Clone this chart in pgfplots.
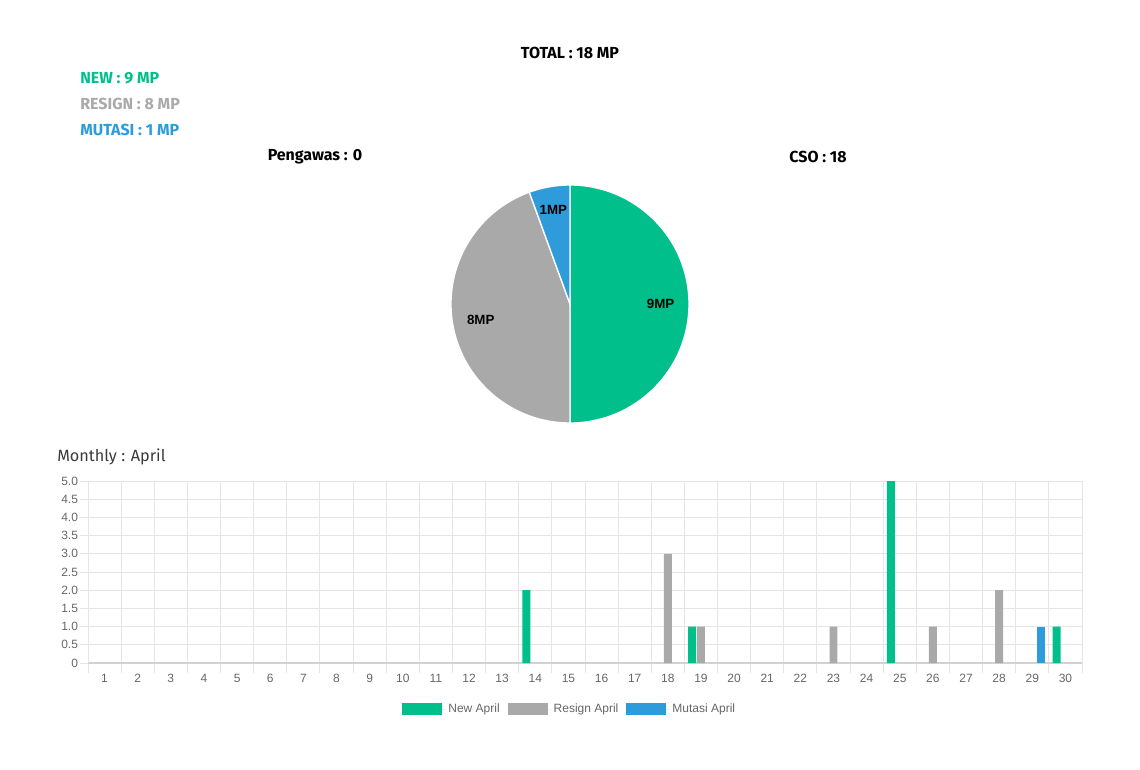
\documentclass[border=0pt]{standalone}
\usepackage{pgfplots}
\pgfplotsset{compat=1.18}
\usepackage{fontspec}
\setmainfont{Liberation Sans}
\newfontfamily\head{Fira Sans}

\definecolor{cgreen}{RGB}{0,191,138}
\definecolor{cgray}{RGB}{169,169,169}
\definecolor{cblue}{RGB}{46,155,219}
\definecolor{gridcol}{RGB}{229,229,229}
\definecolor{axiscol}{RGB}{210,210,210}
\definecolor{tickcol}{RGB}{102,102,102}
\definecolor{titlecol}{RGB}{58,58,58}

% pie values (MP)
\def\vNew{9}
\def\vRes{8}
\def\vMut{1}
\pgfmathsetmacro\vTot{\vNew+\vRes+\vMut}
\pgfmathsetmacro\aA{90-360*\vNew/\vTot}
\pgfmathsetmacro\aB{\aA-360*\vRes/\vTot}
\pgfmathsetmacro\aC{\aB-360*\vMut/\vTot}
\pgfmathsetmacro\mA{(90+\aA)/2}
\pgfmathsetmacro\mB{(\aA+\aB)/2}
\pgfmathsetmacro\mC{(\aB+\aC)/2}

\begin{document}
\begin{tikzpicture}
\begin{scope}[x=0.75pt,y=-0.75pt]
  \path[use as bounding box] (0,0) rectangle (1140,770);
  \node[font=\head\bfseries\fontsize{12}{14}\selectfont] at (570,53) {TOTAL : 18 MP};
  \node[anchor=west,text=cgreen,font=\head\bfseries\fontsize{12}{14}\selectfont,inner sep=0pt] at (80,78) {NEW : 9 MP};
  \node[anchor=west,text=cgray,font=\head\bfseries\fontsize{12}{14}\selectfont,inner sep=0pt] at (80,104) {RESIGN : 8 MP};
  \node[anchor=west,text=cblue,font=\head\bfseries\fontsize{12}{14}\selectfont,inner sep=0pt] at (80,130) {MUTASI : 1 MP};
  \node[font=\head\bfseries\fontsize{12}{14}\selectfont] at (315,157) {Pengawas : 0};
  \node[font=\head\bfseries\fontsize{12}{14}\selectfont] at (818,157) {CSO : 18};
  \node[anchor=west,text=titlecol,font=\head\fontsize{12.2}{14}\selectfont,inner sep=0pt] at (57,457) {Monthly : April};
\end{scope}

% pie
\begin{axis}[
  hide axis, clip=false,
  anchor=origin, at={(427.5pt,-228pt)},
  x=89.25pt, y=89.25pt,
  xmin=-1, xmax=1, ymin=-1, ymax=1,
]
  \fill[cgreen,draw=white,line width=1pt] (axis cs:0,0) -- (axis cs:0,1)
    arc[start angle=90,end angle=\aA,radius=89.25pt] -- cycle;
  \fill[cgray,draw=white,line width=1pt] (axis cs:0,0) -- ++(\aA:89.25pt)
    arc[start angle=\aA,end angle=\aB,radius=89.25pt] -- cycle;
  \fill[cblue,draw=white,line width=1pt] (axis cs:0,0) -- ++(\aB:89.25pt)
    arc[start angle=\aB,end angle=\aC,radius=89.25pt] -- cycle;
  \path[font=\bfseries\fontsize{10}{12}\selectfont]
    (axis cs:0,0) ++(\mA:68pt) node {\vNew MP}
    (axis cs:0,0) ++(\mB:68pt) node {\vRes MP}
    (axis cs:0,0) ++(\mC:72pt) node {\vMut MP};
\end{axis}

% monthly bars
\begin{axis}[
  at={(66pt,-497.25pt)}, anchor=south west,
  scale only axis, width=745.5pt, height=136.5pt,
  xmin=0.5, xmax=30.5, ymin=0, ymax=5,
  axis lines*=left,
  x axis line style={draw=axiscol,line width=1pt},
  y axis line style={draw=gridcol,line width=0.75pt},
  tick align=outside,
  xtick={1,...,30},
  major x tick style={draw=none},
  minor xtick={0.5,1.5,...,30.5},
  minor x tick style={draw=gridcol,line width=0.75pt},
  minor tick length=7.5pt,
  xminorgrids,
  ytick={0,0.5,...,5},
  yticklabels={0,0.5,1.0,1.5,2.0,2.5,3.0,3.5,4.0,4.5,5.0},
  major y tick style={draw=gridcol,line width=0.75pt},
  major tick length=6pt,
  ymajorgrids,
  grid style={draw=gridcol,line width=0.75pt},
  minor grid style={draw=gridcol,line width=0.75pt},
  /pgf/number format/assume math mode=true,
  ticklabel style={font=\fontsize{9}{10}\selectfont,text=tickcol},
  yticklabel style={xshift=2pt},
  xticklabel style={yshift=1pt},
  legend columns=3,
  legend style={at={(0.485,-0.253)},anchor=center,draw=none,
    font=\fontsize{9}{10}\selectfont,text=tickcol,
    /tikz/every even column/.append style={column sep=4pt}},
  legend image code/.code={\fill[#1,draw=none] (0pt,-4.5pt) rectangle (30pt,4.5pt);
    \path (0pt,0pt) -- (32.5pt,0pt);},
]
  \addplot[ybar,bar width=0.24,bar shift=-0.267,fill=cgreen,draw=none]
    coordinates {(14,2) (19,1) (25,5) (30,1)};
  \addplot[ybar,bar width=0.24,bar shift=0,fill=cgray,draw=none]
    coordinates {(18,3) (19,1) (23,1) (26,1) (28,2)};
  \addplot[ybar,bar width=0.24,bar shift=0.267,fill=cblue,draw=none]
    coordinates {(29,1)};
  \legend{New April,Resign April,Mutasi April}
\end{axis}
\end{tikzpicture}
\end{document}
